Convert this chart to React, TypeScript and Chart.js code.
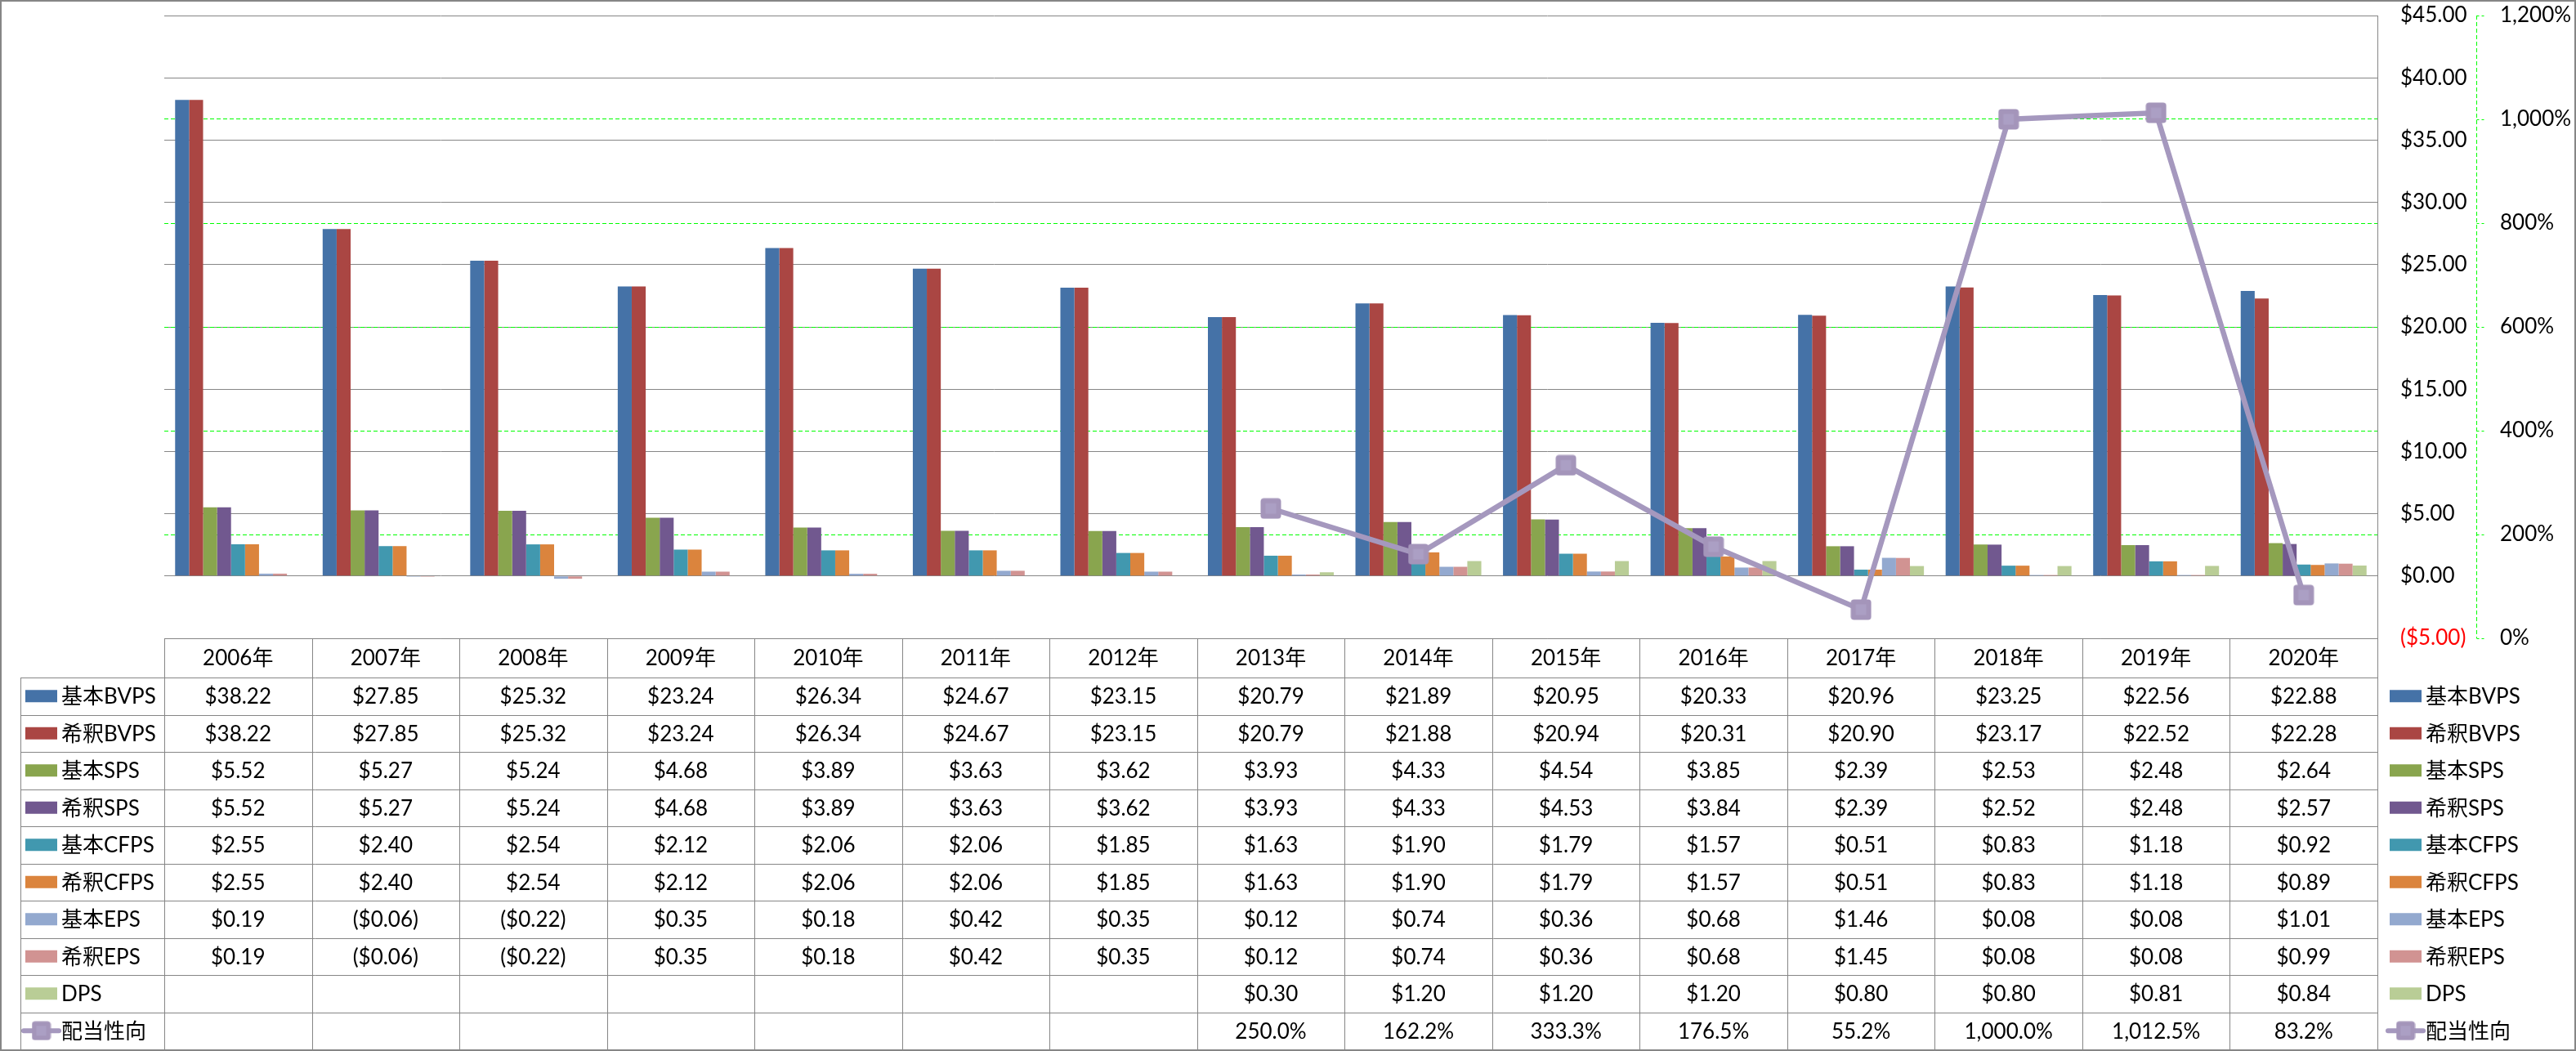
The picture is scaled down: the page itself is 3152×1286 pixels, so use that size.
import React, { useEffect, useRef } from 'react';
import { Chart, registerables } from 'chart.js';

Chart.register(...registerables);

// ---------- data ----------
const years = ['2006年', '2007年', '2008年', '2009年', '2010年', '2011年', '2012年', '2013年', '2014年', '2015年', '2016年', '2017年', '2018年', '2019年', '2020年'];

const basicBVPS = [38.22, 27.85, 25.32, 23.24, 26.34, 24.67, 23.15, 20.79, 21.89, 20.95, 20.33, 20.96, 23.25, 22.56, 22.88];
const dilutedBVPS = [38.22, 27.85, 25.32, 23.24, 26.34, 24.67, 23.15, 20.79, 21.88, 20.94, 20.31, 20.90, 23.17, 22.52, 22.28];
const basicSPS = [5.52, 5.27, 5.24, 4.68, 3.89, 3.63, 3.62, 3.93, 4.33, 4.54, 3.85, 2.39, 2.53, 2.48, 2.64];
const dilutedSPS = [5.52, 5.27, 5.24, 4.68, 3.89, 3.63, 3.62, 3.93, 4.33, 4.53, 3.84, 2.39, 2.52, 2.48, 2.57];
const basicCFPS = [2.55, 2.40, 2.54, 2.12, 2.06, 2.06, 1.85, 1.63, 1.90, 1.79, 1.57, 0.51, 0.83, 1.18, 0.92];
const dilutedCFPS = [2.55, 2.40, 2.54, 2.12, 2.06, 2.06, 1.85, 1.63, 1.90, 1.79, 1.57, 0.51, 0.83, 1.18, 0.89];
const basicEPS = [0.19, -0.06, -0.22, 0.35, 0.18, 0.42, 0.35, 0.12, 0.74, 0.36, 0.68, 1.46, 0.08, 0.08, 1.01];
const dilutedEPS = [0.19, -0.06, -0.22, 0.35, 0.18, 0.42, 0.35, 0.12, 0.74, 0.36, 0.68, 1.45, 0.08, 0.08, 0.99];
const dps = [null, null, null, null, null, null, null, 0.30, 1.20, 1.20, 1.20, 0.80, 0.80, 0.81, 0.84];
const payoutRatio = [null, null, null, null, null, null, null, 250.0, 162.2, 333.3, 176.5, 55.2, 1000.0, 1012.5, 83.2];

const barNames = ['基本BVPS', '希釈BVPS', '基本SPS', '希釈SPS', '基本CFPS', '希釈CFPS', '基本EPS', '希釈EPS', 'DPS'];
const barSeries = [basicBVPS, dilutedBVPS, basicSPS, dilutedSPS, basicCFPS, dilutedCFPS, basicEPS, dilutedEPS, dps];
const barColors = ['#4572A7', '#AA4643', '#89A54E', '#71588F', '#4198AF', '#DB843D', '#93A9CF', '#D19392', '#B9CD96'];
const lineName = '配当性向';
const lineColor = '#A598BE';

const yMin = -5;
const yMax = 45;
const yStep = 5;
const y1Min = 0;
const y1Max = 1200;
const y1Step = 200;

// ---------- styles ----------
const FONT_FAMILY = "Lato, 'Noto Sans CJK JP', sans-serif";
const FONT = `26px ${FONT_FAMILY}`;
const GRID_GRAY = '#868686';
const GREEN = '#00FF00';
const W = 3152;
const H = 1286;
const HEADER_H = 48;
const TABLE_BOTTOM = 1284;

const fmtMoney = (v: number | null) => {
  if (v === null || v === undefined) return '';
  return v < 0 ? `($${Math.abs(v).toFixed(2)})` : `$${v.toFixed(2)}`;
};
const fmtPct = (v: number | null) => {
  if (v === null || v === undefined) return '';
  return `${v.toLocaleString('en-US', { minimumFractionDigits: 1, maximumFractionDigits: 1 })}%`;
};

function makeMarker(size: number) {
  const c = document.createElement('canvas');
  c.width = size;
  c.height = size;
  const g = c.getContext('2d')!;
  g.fillStyle = '#A495BA';
  g.beginPath();
  (g as any).roundRect(0.5, 0.5, size - 1, size - 1, 4);
  g.fill();
  g.fillStyle = '#AB9FC4';
  const inner = Math.round(size * 0.5);
  g.fillRect((size - inner) / 2, (size - inner) / 2, inner, inner);
  return c;
}

export default function App() {
  const ref = useRef<HTMLCanvasElement>(null);

  useEffect(() => {
    let chart: Chart | null = null;
    let cancelled = false;
    document.body.style.margin = '0';

    const init = () => {
      if (cancelled || !ref.current) return;
      const marker = makeMarker(26);
      const legendMarker = makeMarker(24);

      const tablePlugin = {
        id: 'dataTable',
        beforeDraw(c: any) {
          const ctx = c.ctx;
          ctx.save();
          ctx.fillStyle = '#ffffff';
          ctx.fillRect(0, 0, c.width, c.height);
          ctx.restore();
        },
        afterDraw(c: any) {
          const ctx: CanvasRenderingContext2D = c.ctx;
          const area = c.chartArea;
          const xs = c.scales.x;
          const y1s = c.scales.y1;
          const n = years.length;
          const colW = (area.right - area.left) / n;
          const top = area.bottom;
          const rowsTop = top + HEADER_H;
          const rowCount = barNames.length + 1;
          const rowH = (TABLE_BOTTOM - rowsTop) / rowCount;
          const px = (v: number) => Math.round(v) + 0.5;

          ctx.save();
          // y1 axis dashed green line and tick marks
          ctx.strokeStyle = GREEN;
          ctx.lineWidth = 1;
          ctx.setLineDash([5, 3]);
          ctx.beginPath();
          ctx.moveTo(px(y1s.left), area.top);
          ctx.lineTo(px(y1s.left), area.bottom);
          ctx.stroke();
          ctx.setLineDash([3, 3]);
          ctx.beginPath();
          for (let v = y1Min; v <= y1Max; v += y1Step) {
            const y = px(y1s.getPixelForValue(v));
            ctx.moveTo(px(y1s.left), y);
            ctx.lineTo(px(y1s.left) + 10, y);
          }
          ctx.stroke();
          ctx.setLineDash([]);

          // table lines
          ctx.strokeStyle = GRID_GRAY;
          ctx.lineWidth = 1;
          ctx.beginPath();
          ctx.moveTo(area.left, px(top));
          ctx.lineTo(area.right, px(top));
          for (let r = 0; r <= rowCount; r++) {
            const y = px(rowsTop + r * rowH);
            ctx.moveTo(25, y);
            ctx.lineTo(area.right, y);
          }
          for (let i = 0; i <= n; i++) {
            const x = px(area.left + i * colW);
            ctx.moveTo(x, top);
            ctx.lineTo(x, TABLE_BOTTOM);
          }
          ctx.moveTo(25.5, rowsTop);
          ctx.lineTo(25.5, TABLE_BOTTOM);
          ctx.stroke();

          // text
          ctx.font = FONT;
          ctx.fillStyle = '#000';
          ctx.textBaseline = 'middle';
          ctx.textAlign = 'center';
          for (let i = 0; i < n; i++) {
            ctx.fillText(years[i], xs.getPixelForValue(i), top + HEADER_H / 2 + 1);
          }
          for (let s = 0; s < rowCount; s++) {
            const cy = rowsTop + (s + 0.5) * rowH;
            const isLine = s === barNames.length;
            const vals = isLine ? payoutRatio : barSeries[s];
            ctx.fillStyle = '#000';
            ctx.textAlign = 'center';
            for (let i = 0; i < n; i++) {
              const t = isLine ? fmtPct(vals[i] as any) : fmtMoney(vals[i] as any);
              if (t) ctx.fillText(t, xs.getPixelForValue(i), cy + 1);
            }
            const name = isLine ? lineName : barNames[s];
            const keys = [{ sx: 31, tx: 75 }, { sx: 2924, tx: 2968 }];
            for (const k of keys) {
              if (isLine) {
                ctx.strokeStyle = lineColor;
                ctx.lineWidth = 6;
                ctx.lineCap = 'round';
                ctx.beginPath();
                ctx.moveTo(k.sx - 2, cy);
                ctx.lineTo(k.sx + 41, cy);
                ctx.stroke();
                ctx.drawImage(legendMarker, k.sx + 19.5 - 12, cy - 12, 24, 24);
              } else {
                ctx.fillStyle = barColors[s];
                ctx.fillRect(k.sx, cy - 7.5, 39, 15);
              }
              ctx.fillStyle = '#000';
              ctx.textAlign = 'left';
              ctx.fillText(name, k.tx, cy + 1);
            }
          }

          // outer frame
          ctx.fillStyle = GRID_GRAY;
          ctx.fillRect(0, 0, W, 2);
          ctx.fillRect(0, 0, 2, H);
          ctx.fillRect(W - 2, 0, 2, H);
          ctx.fillRect(0, H - 2, W, 2);
          ctx.restore();
        },
      };

      const datasets: any[] = barSeries.map((data, i) => ({
        type: 'bar',
        label: barNames[i],
        data,
        backgroundColor: barColors[i],
        borderWidth: 0,
        categoryPercentage: 0.853,
        barPercentage: 1,
        yAxisID: 'y',
        order: 1,
      }));
      datasets.push({
        type: 'line',
        label: lineName,
        data: payoutRatio,
        borderColor: lineColor,
        borderWidth: 6.5,
        pointStyle: marker,
        pointRadius: 13,
        pointHoverRadius: 13,
        tension: 0,
        spanGaps: false,
        yAxisID: 'y1',
        order: 0,
      });

      const fixPad = (s: any, width: number) => {
        s.width = width;
        s.paddingTop = 0;
        s.paddingBottom = 0;
      };

      chart = new Chart(ref.current, {
        type: 'bar',
        data: { labels: years, datasets },
        plugins: [tablePlugin],
        options: {
          responsive: false,
          animation: false,
          devicePixelRatio: 1,
          layout: {
            autoPadding: false,
            padding: { left: 201, top: 19, right: 0, bottom: H - 781 },
          } as any,
          font: { family: FONT_FAMILY, size: 26 } as any,
          plugins: {
            legend: { display: false },
            tooltip: { enabled: false },
          },
          scales: {
            x: {
              type: 'category',
              display: false,
              offset: true,
              grid: { display: false },
            },
            y: {
              position: 'right',
              min: yMin,
              max: yMax,
              weight: 0,
              afterFit: (s: any) => fixPad(s, 121),
              ticks: {
                stepSize: yStep,
                padding: 0,
                font: { family: FONT_FAMILY, size: 26 },
                color: (ctx: any) => (ctx.tick && ctx.tick.value < 0 ? '#FF0000' : '#000000'),
                callback: (v: any) => fmtMoney(Number(v)),
              },
              grid: {
                color: GRID_GRAY,
                lineWidth: 1,
                drawTicks: true,
                tickLength: 28,
                tickColor: 'rgba(0,0,0,0)',
              },
              border: { display: true, color: GRID_GRAY, width: 1 },
            },
            y1: {
              position: 'right',
              min: y1Min,
              max: y1Max,
              weight: 1,
              afterFit: (s: any) => fixPad(s, 122),
              ticks: {
                stepSize: y1Step,
                padding: 0,
                font: { family: FONT_FAMILY, size: 26 },
                color: '#000000',
                callback: (v: any) => `${Number(v).toLocaleString('en-US')}%`,
              },
              grid: {
                color: (ctx: any) =>
                  ctx.tick && (ctx.tick.value === y1Min || ctx.tick.value === y1Max) ? 'rgba(0,0,0,0)' : GREEN,
                tickColor: 'rgba(0,0,0,0)',
                lineWidth: 1,
                drawTicks: true,
                tickLength: 29,
              } as any,
              border: { display: false, dash: [5, 3], color: GREEN } as any,
            },
          },
        } as any,
      });
    };

    const fontsApi = (document as any).fonts;
    const ready = fontsApi
      ? Promise.all([
          fontsApi.load(`26px Lato`, '$0123456789.%,BVPS'),
          fontsApi.load(`26px 'Noto Sans CJK JP'`, '基本希釈年配当性向'),
        ]).catch(() => undefined)
      : Promise.resolve();
    ready.then(init);

    return () => {
      cancelled = true;
      if (chart) chart.destroy();
    };
  }, []);

  return (
    <div style={{ width: W, height: H }}>
      <canvas ref={ref} width={W} height={H} style={{ display: 'block', width: W, height: H }} />
    </div>
  );
}
